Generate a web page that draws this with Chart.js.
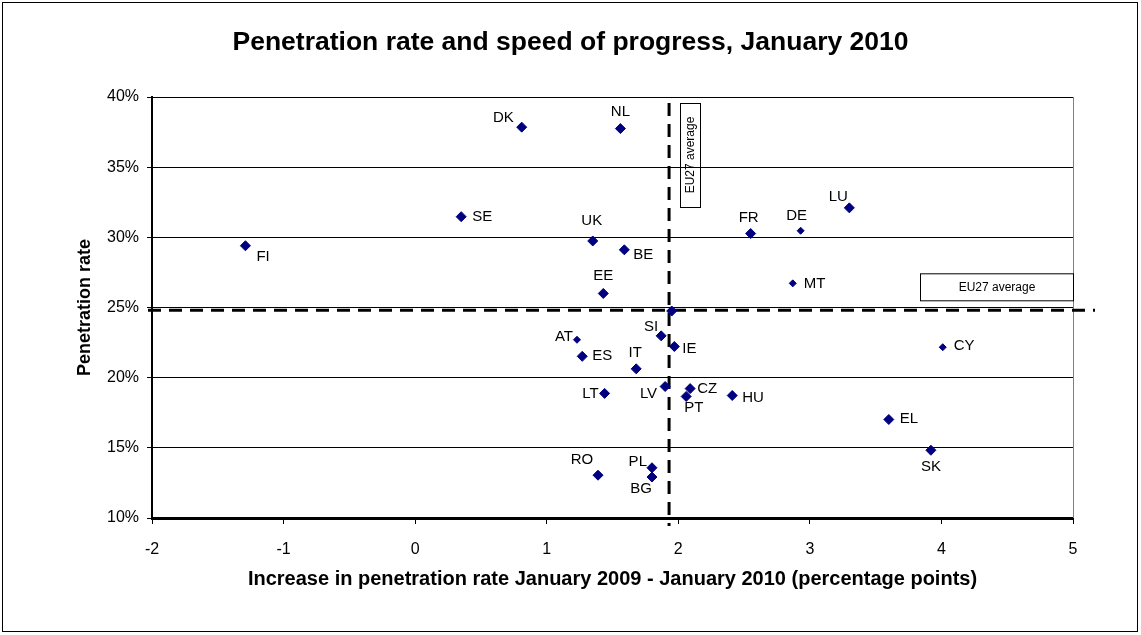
<!DOCTYPE html>
<html>
<head>
<meta charset="utf-8">
<title>Penetration rate and speed of progress</title>
<script src="https://cdn.jsdelivr.net/npm/chart.js@4.4.1/dist/chart.umd.min.js"></script>
<style>
  body { margin: 0; background: #fff; }
  #wrap { width: 1141px; height: 635px; }
</style>
</head>
<body>
<div id="wrap"><canvas id="chart" width="1141" height="635"></canvas></div>
<script>
  // data
  const countries = ['DK', 'NL', 'SE', 'FI', 'UK', 'BE', 'EE', 'FR', 'DE', 'LU', 'MT', 'EU27', 'SI', 'IE', 'AT',
    'ES', 'IT', 'LT', 'LV', 'CZ', 'PT', 'HU', 'EL', 'SK', 'CY', 'RO', 'PL', 'BG'];
  const increase = [0.81, 1.56, 0.35, -1.29, 1.35, 1.59, 1.43, 2.55, 2.93, 3.30, 2.87, 1.95, 1.87, 1.97, 1.23,
    1.27, 1.68, 1.44, 1.90, 2.09, 2.06, 2.41, 3.60, 3.92, 4.01, 1.39, 1.80, 1.80];
  const penetration = [37.85, 37.75, 31.47, 29.4, 29.74, 29.11, 26.0, 30.27, 30.47, 32.1, 26.72, 24.75, 22.98, 22.22, 22.7,
    21.52, 20.63, 18.88, 19.37, 19.22, 18.66, 18.73, 17.02, 14.83, 22.17, 13.05, 13.58, 12.92];
  const avgIncrease = 1.93;
  const avgPenetration = 24.8;
  const xTicks = [-2, -1, 0, 1, 2, 3, 4, 5];
  const yTicks = [10, 15, 20, 25, 30, 35, 40];

  // label placement: [dx, dy, align] from the marker
  const labelPos = {
    DK: [-8, -9, 'right'], NL: [0, -17, 'center'], SE: [11, 0, 'left'], FI: [11, 11, 'left'],
    UK: [-1, -20, 'center'], BE: [9, 5, 'left'], EE: [0, -18, 'center'], FR: [-2, -16, 'center'],
    DE: [-4, -15, 'center'], LU: [-11, -11, 'center'], MT: [11, 0, 'left'], SI: [-3, -9, 'right'],
    IE: [8, 2, 'left'], AT: [-4, -3, 'right'], ES: [10, 0, 'left'], IT: [-1, -16, 'center'],
    LT: [-6, 0, 'right'], LV: [-8, 7, 'right'], CZ: [7, 0, 'left'], PT: [-2, 11, 'left'],
    HU: [10, 2, 'left'], EL: [11, -1, 'left'], SK: [0, 17, 'center'], CY: [11, -1, 'left'],
    RO: [-16, -15, 'center'], PL: [-5, -6, 'right'], BG: [-11, 12, 'center'],
  };
  const smallMarkers = ['DE', 'MT', 'AT', 'CY'];

  const FONT = "Arial, 'Liberation Sans', sans-serif";
  const NAVY = '#000080';

  const background = {
    id: 'background',
    beforeDraw(chart) {
      const { ctx } = chart;
      ctx.save();
      ctx.fillStyle = '#fff';
      ctx.fillRect(0, 0, chart.width, chart.height);
      ctx.strokeStyle = '#000';
      ctx.lineWidth = 1;
      ctx.strokeRect(2.5, 2.5, 1135, 629);
      ctx.restore();
    },
  };

  const averages = {
    id: 'averages',
    beforeDatasetsDraw(chart) {
      const { ctx, chartArea: a, scales } = chart;
      const ax = scales.x.getPixelForValue(avgIncrease);
      const ay = scales.y.getPixelForValue(avgPenetration);
      ctx.save();
      // right border of the plot
      ctx.strokeStyle = '#808080';
      ctx.lineWidth = 1;
      ctx.beginPath();
      ctx.moveTo(a.right + 0.5, a.top);
      ctx.lineTo(a.right + 0.5, a.bottom);
      ctx.stroke();

      ctx.strokeStyle = '#000';
      ctx.lineWidth = 3;
      ctx.setLineDash([13, 8]);
      ctx.beginPath();
      ctx.moveTo(ax, a.top + 6);
      ctx.lineTo(ax, a.bottom + 8);
      ctx.moveTo(a.left - 4, ay);
      ctx.lineTo(a.right + 22, ay);
      ctx.stroke();
      ctx.setLineDash([]);

      // text boxes
      ctx.lineWidth = 1;
      ctx.font = `12px ${FONT}`;
      ctx.fillStyle = '#000';
      ctx.strokeRect(Math.round(ax) + 11.5, a.top + 6.5, 20, 104);
      ctx.save();
      ctx.translate(Math.round(ax) + 21.5, a.top + 58);
      ctx.rotate(-Math.PI / 2);
      ctx.textAlign = 'center';
      ctx.textBaseline = 'middle';
      ctx.fillText('EU27 average', 0, 0);
      ctx.restore();

      ctx.fillStyle = '#fff';
      ctx.fillRect(a.right - 153, ay - 37, 153, 27);
      ctx.strokeRect(a.right - 152.5, ay - 36.5, 153, 27);
      ctx.fillStyle = '#000';
      ctx.textAlign = 'center';
      ctx.textBaseline = 'middle';
      ctx.fillText('EU27 average', a.right - 76, ay - 23);
      ctx.restore();
    },
  };

  const countryLabels = {
    id: 'countryLabels',
    afterDatasetsDraw(chart) {
      const { ctx } = chart;
      const meta = chart.getDatasetMeta(0);
      ctx.save();
      ctx.font = `15px ${FONT}`;
      ctx.fillStyle = '#000';
      ctx.textBaseline = 'middle';
      meta.data.forEach((pt, i) => {
        const pos = labelPos[countries[i]];
        if (!pos) return;
        ctx.textAlign = pos[2];
        ctx.fillText(countries[i], pt.x + pos[0], pt.y + pos[1]);
      });
      ctx.restore();
    },
  };

  new Chart(document.getElementById('chart'), {
    type: 'scatter',
    data: {
      datasets: [{
        label: 'Countries',
        data: increase.map((v, i) => ({ x: v, y: penetration[i] })),
        backgroundColor: NAVY,
        borderColor: NAVY,
        borderWidth: 1,
        pointStyle: 'rectRot',
        pointRadius: countries.map((c) => (smallMarkers.includes(c) ? 3.5 : 5)),
        pointHoverRadius: 5,
      }],
    },
    options: {
      responsive: false,
      animation: false,
      devicePixelRatio: 1,
      layout: { padding: { left: 0, right: 0, top: 0, bottom: 37 } },
      plugins: {
        legend: { display: false },
        tooltip: { enabled: false },
        title: {
          display: true,
          text: 'Penetration rate and speed of progress, January 2010',
          color: '#000',
          font: { family: FONT, size: 26.5, weight: 'bold' },
          padding: { top: 26.5, bottom: 38.7 },
        },
      },
      scales: {
        x: {
          type: 'linear',
          min: xTicks[0],
          max: xTicks[xTicks.length - 1],
          afterBuildTicks: (s) => { s.ticks = xTicks.map((v) => ({ value: v })); },
          afterFit: (s) => { s.height = 80; },
          ticks: { color: '#000', font: { family: FONT, size: 16 }, padding: 16 },
          grid: { drawOnChartArea: false, drawTicks: true, tickLength: 6, color: '#000' },
          border: { color: '#000', width: 3 },
          title: {
            display: true,
            text: 'Increase in penetration rate January 2009 - January 2010 (percentage points)',
            color: '#000',
            font: { family: FONT, size: 20, weight: 'bold' },
            padding: { top: 0, bottom: 7 },
          },
        },
        y: {
          min: yTicks[0],
          max: yTicks[yTicks.length - 1],
          afterBuildTicks: (s) => { s.ticks = yTicks.map((v) => ({ value: v })); },
          afterFit: (s) => { s.width = 152; },
          ticks: { color: '#000', font: { family: FONT, size: 16 }, padding: 8, callback: (v) => v + '%' },
          grid: { color: '#000', lineWidth: 1, tickLength: 5 },
          border: { color: '#000', width: 2 },
          title: {
            display: true,
            text: 'Penetration rate',
            color: '#000',
            font: { family: FONT, size: 18, weight: 'bold' },
            padding: { top: 74, bottom: 0 },
          },
        },
        // empty right-hand axis, keeps the plot narrower than the frame
        yRight: {
          position: 'right',
          display: true,
          afterFit: (s) => { s.width = 68; },
          ticks: { display: false },
          grid: { display: false },
          border: { display: false },
        },
      },
    },
    plugins: [background, averages, countryLabels],
  });
</script>
</body>
</html>
